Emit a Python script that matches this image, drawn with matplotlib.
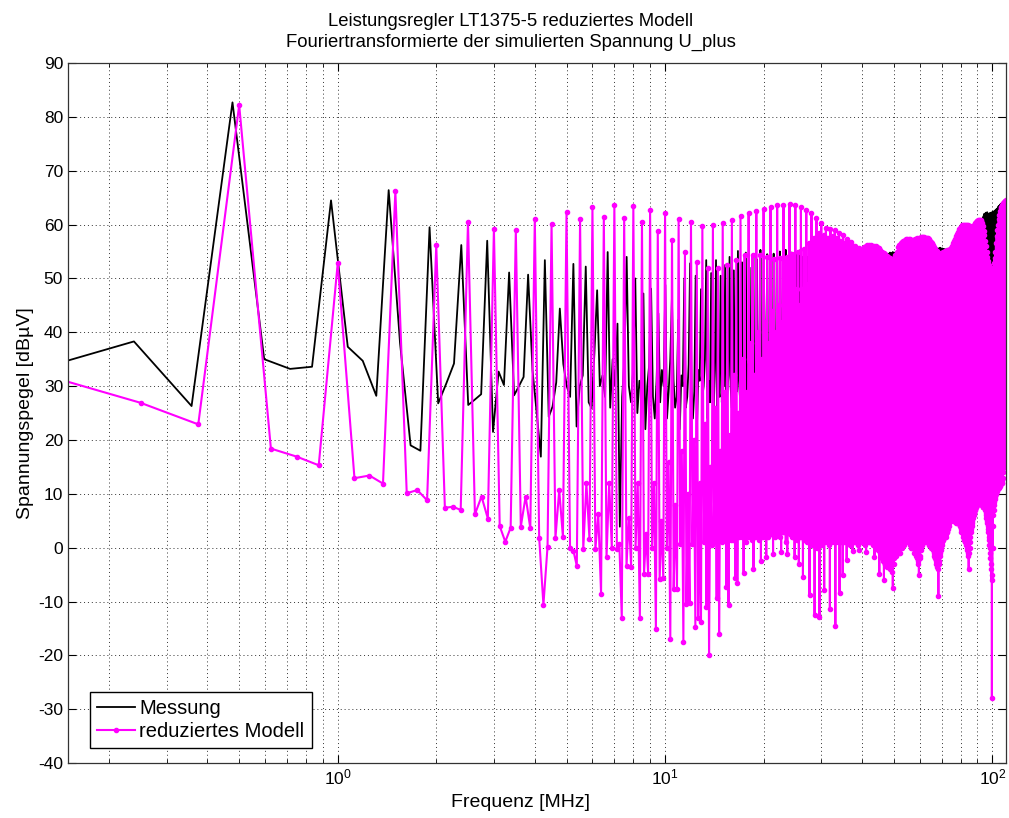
import matplotlib
matplotlib.use("Agg")
import matplotlib.pyplot as plt
import numpy as np
from matplotlib.ticker import LogLocator, NullFormatter, MultipleLocator

plt.rcParams["font.family"] = ["Liberation Sans", "DejaVu Sans"]
plt.rcParams["mathtext.default"] = "regular"
plt.rcParams["axes.unicode_minus"] = False

# frequency bin widths of the two spectra (MHz)
df_messung = 0.11925
df_modell = 0.125

# Messung, 4 bins per harmonic of 0.477 MHz: [bin1, bin2, bin3, harmonic]
messung_dbuv = [
    [33.0, 38.3, 26.3, 82.7, 35.0, 33.2, 33.6, 64.5, 37.3, 34.7, 28.2, 66.4, 38.0, 19.0, 18.0, 59.5],
    [26.8, 30.5, 34.2, 56.2, 26.5, 27.5, 28.5, 57.0, 21.5, 32.7, 30.2, 51.1, 28.3, 30.0, 31.7, 50.7],
    [33.0, 25.0, 16.9, 53.4, 24.3, 26.2, 30.7, 44.4, 34.1, 30.0, 28.0, 52.7, 22.5, 30.0, 32.0, 52.2],
    [27.0, 25.9, 36.0, 47.8, 30.0, 32.0, 28.0, 54.9, 26.0, 35.0, 30.0, 41.6, 3.9, 28.0, 35.0, 54.0],
    [30.0, 27.0, 33.0, 50.0, 25.0, 31.0, 29.0, 47.2, 22.0, 30.0, 34.0, 48.1, 28.0, 24.0, 31.0, 43.5],
    [27.0, 33.0, 30.0, 48.8, 24.0, 29.0, 35.0, 46.3, 31.0, 26.0, 28.0, 42.3, 22.0, 32.0, 30.0, 50.0],
    [26.0, 28.0, 34.0, 52.8, 30.0, 24.0, 29.0, 50.5, 23.0, 33.0, 31.0, 48.0, 28.0, 30.0, 35.0, 53.4],
    [24.0, 31.0, 27.0, 51.0, 29.0, 25.0, 33.0, 53.4, 22.0, 30.0, 28.0, 50.5, 27.0, 34.0, 30.0, 52.5],
    [25.0, 29.0, 32.0, 54.0, 30.0, 26.0, 31.0, 51.5, 24.0, 33.0, 29.0, 55.1, 31.0, 28.0, 34.0, 53.0],
    [27.0, 32.0, 30.0, 54.8, 29.0, 34.0, 31.0, 52.0, 32.0, 30.0, 35.0, 54.5, 30.0, 33.0, 31.0, 53.5],
    [33.0, 31.0, 34.0, 55.3, 31.0, 35.0, 32.0, 53.0, 34.0, 32.0, 36.0, 54.5, 32.0, 34.0, 33.0, 53.8],
    [35.0, 33.0, 34.0, 54.6, 33.0, 36.0, 34.0, 53.5, 34.0, 35.0, 33.0, 55.0, 36.0, 34.0, 35.0, 54.0],
    [34.0, 36.0, 35.0, 55.3, 35.0, 33.0, 36.0, 54.2, 36.0, 35.0, 34.0, 54.8, 34.0, 36.0, 35.0, 53.9],
    [35.0, 34.0, 36.0, 54.5, 36.0, 35.0, 34.0, 55.2, 34.0, 36.0, 35.0, 54.0, 35.0, 34.0, 36.0, 54.6],
    [36.0, 35.0, 35.0, 54.0, 35.0, 36.0, 34.0, 53.6, 34.0, 35.0, 36.0, 54.2, 36.0, 34.0, 35.0, 53.5],
    [35.0, 36.0, 34.0, 53.8, 34.0, 35.0, 36.0, 53.2, 36.0, 35.0, 34.0, 53.6, 35.0, 36.0, 35.0, 53.0],
    [34, 36, 35, 53.2, 35, 34, 36, 52.8, 36, 35, 34, 53.4, 34, 36, 35, 52.9],
    [35, 34, 36, 53.0, 36, 35, 34, 53.5, 34, 36, 35, 52.8, 35, 34, 36, 53.2],
    [36, 35, 34, 53.0, 34, 36, 35, 52.6, 35, 34, 36, 53.1, 36, 35, 34, 52.8],
    [34, 36, 35, 52.5, 35, 34, 36, 52.9, 36, 35, 34, 52.4, 34, 36, 35, 52.7],
    [35, 34, 36, 52.3, 36, 35, 34, 52.6, 34, 36, 35, 52.2, 35, 34, 36, 52.5],
    [36, 35, 34, 52.8, 34, 36, 35, 53.0, 35, 34, 36, 52.7, 36, 35, 34, 53.1],
    [34, 36, 35, 53.2, 35, 34, 36, 53.0, 36, 35, 34, 53.4, 34, 36, 35, 53.3],
    [35, 34, 36, 53.6, 36, 35, 34, 53.9, 34, 36, 35, 54.0, 35, 34, 36, 54.1],
    [36, 35, 34, 54.3, 34, 36, 35, 54.2, 35, 34, 36, 54.5, 36, 35, 34, 54.4],
    [34, 36, 35, 54.6, 35, 34, 36, 54.8, 36, 35, 34, 54.7, 34, 36, 35, 54.9],
    [35, 34, 36, 54.8, 36, 35, 34, 54.6, 34, 36, 35, 54.5, 35, 34, 36, 54.3],
    [36, 35, 34, 54.2, 34, 36, 35, 54.0, 35, 34, 36, 54.1, 36, 35, 34, 53.9],
    [34, 36, 35, 54.0, 35, 34, 36, 53.8, 36, 35, 34, 54.1, 34, 36, 35, 53.9],
    [35, 34, 36, 54.2, 36, 35, 34, 54.0, 34, 36, 35, 54.3, 35, 34, 36, 54.1],
    [36, 35, 34, 54.4, 34, 36, 35, 54.2, 35, 34, 36, 54.5, 36, 35, 34, 54.3],
    [34, 36, 35, 54.6, 35, 34, 36, 54.4, 36, 35, 34, 54.7, 34, 36, 35, 54.5],
    [35, 34, 36, 54.8, 36, 35, 34, 54.6, 34, 36, 35, 54.9, 35, 34, 36, 54.7],
    [36, 35, 34, 55.0, 34, 36, 35, 54.8, 35, 34, 36, 55.1, 36, 35, 34, 54.9],
    [34, 36, 35, 55.2, 35, 34, 36, 55.0, 36, 35, 34, 55.3, 34, 36, 35, 55.2],
    [35, 34, 36, 55.5, 36, 35, 34, 55.3, 34, 36, 35, 55.6, 35, 34, 36, 55.4],
    [36, 35, 34, 55.7, 34, 36, 35, 55.5, 35, 34, 36, 55.6, 36, 35, 34, 55.4],
    [34, 36, 35, 55.5, 35, 34, 36, 55.3, 36, 35, 34, 55.4, 34, 36, 35, 55.2],
    [35, 34, 36, 55.3, 36, 35, 34, 55.1, 34, 36, 35, 55.2, 35, 34, 36, 55.0],
    [36, 35, 34, 55.1, 34, 36, 35, 54.9, 35, 34, 36, 55.0, 36, 35, 34, 54.8],
    [34, 36, 35, 55.0, 35, 34, 36, 54.8, 36, 35, 34, 55.1, 34, 36, 35, 54.9],
    [35, 34, 36, 55.2, 36, 35, 34, 55.0, 34, 36, 35, 55.3, 35, 34, 36, 55.1],
    [36, 35, 34, 55.4, 34, 36, 35, 55.2, 35, 34, 36, 55.5, 36, 35, 34, 55.3],
    [34, 36, 35, 55.6, 35, 34, 36, 55.4, 36, 35, 34, 55.7, 34, 36, 35, 55.5],
    [35, 34, 36, 55.8, 36, 35, 34, 55.6, 34, 36, 35, 55.9, 35, 34, 36, 55.7],
    [36, 35, 34, 56.0, 34, 36, 35, 56.2, 35, 34, 36, 56.5, 36, 35, 34, 56.8],
    [34, 36, 35, 57.0, 35, 34, 36, 57.3, 36, 35, 34, 57.6, 34, 36, 35, 57.9],
    [35, 34, 36, 58.2, 36, 35, 34, 58.6, 34, 36, 35, 59.0, 35, 34, 36, 59.4],
    [36, 35, 34, 59.8, 34, 36, 35, 60.3, 35, 34, 36, 60.8, 36, 35, 34, 61.2],
    [34, 36, 35, 61.6, 35, 34, 36, 62.0, 36, 35, 34, 61.5, 34, 36, 35, 62.2],
    [35, 34, 36, 61.8, 36, 35, 34, 62.3, 34, 36, 35, 62.0, 35, 34, 36, 61.6],
    [36, 35, 34, 62.1, 34, 36, 35, 61.7, 35, 34, 36, 62.2, 36, 35, 34, 61.9],
    [34, 36, 35, 62.3, 35, 34, 36, 62.0, 36, 35, 34, 62.4, 34, 36, 35, 62.2],
    [35, 34, 36, 62.6, 36, 35, 34, 62.4, 34, 36, 35, 62.8, 35, 34, 36, 62.7],
    [36, 35, 34, 63.0, 34, 36, 35, 63.2, 35, 34, 36, 63.4, 36, 35, 34, 63.5],
    [34, 36, 35, 63.6, 35, 34, 36, 63.8, 36, 35, 34, 63.9, 34, 36, 35, 64.0],
    [35, 34, 36, 64.0, 36, 35, 34, 64.1, 34, 36, 35, 64.1, 35, 34, 36, 64.2],
    [36, 35, 34, 64.2, 34, 36, 35, 64.3, 35, 34, 36, 64.3, 36, 35, 34, 64.4],
]

# reduziertes Modell, 4 bins per harmonic of 0.5 MHz: [bin1, bin2, bin3, harmonic]
modell_dbuv = [
    [32.2, 26.9, 22.9, 82.2, 18.4, 16.9, 15.3, 52.8, 12.9, 13.4, 11.9, 66.2, 10.1, 10.7, 8.8, 56.2],
    [7.4, 7.6, 7.0, 60.5, 6.2, 9.5, 5.4, 59.2, 4.0, 1.1, 3.7, 59.0, 3.9, 9.5, 3.6, 61.1],
    [1.8, -10.6, 0.2, 60.1, 1.8, 10.7, 2.0, 62.3, 0.0, -0.6, -3.4, 61.0, -0.3, 12.0, 1.6, 63.2],
    [-0.3, 6.3, -8.6, 61.5, -1.7, 12.0, 0.0, 63.6, -0.3, 0.7, -13.1, 61.3, -3.4, 5.6, -3.5, 63.4],
    [0.0, 12.0, -13.0, 60.4, -4.8, 2.6, -4.8, 62.8, 0.0, 12.0, -15.2, 58.9, -5.9, 5.0, -5.7, 62.1],
    [0.0, 16.0, -17.0, 57.1, -7.6, 8.0, -7.6, 61.0, 0.7, 18.0, -17.6, 55.0, -10.5, 10.0, -10.3, 60.5],
    [0.7, 20.0, -14.7, 53.1, -13.0, 12.0, -13.8, 59.7, 1.0, 23.0, -11.0, 51.9, -19.9, 15.0, 0.5, 60.0],
    [1.0, 26.0, -9.4, 51.9, -16.0, 18.0, 1.0, 60.3, 1.5, 29.0, -7.3, 52.5, -10.7, 21.0, 1.5, 60.8],
    [1.5, 32.0, -5.7, 53.4, -6.6, 25.0, 2.0, 61.6, 2.0, 35.0, -4.7, 54.3, 1.0, 29.0, 2.0, 62.1],
    [2.0, 38.0, 1.5, 54.3, -3.9, 32.0, 2.0, 62.6, 2.5, 40.0, 1.5, 54.3, -2.5, 35.0, 2.0, 62.9],
    [2.5, 42.0, -1.7, 53.9, 2.0, 38.0, 2.5, 63.3, 2.5, 44.0, -1.2, 53.7, 2.0, 40.0, 3.0, 63.6],
    [2.5, 45.0, 2.0, 53.8, -0.8, 42.0, 3.0, 63.6, 3.0, 46.0, 1.0, 54.0, -1.2, 43.0, 3.0, 63.8],
    [2.5, 47.0, 2.0, 54.5, 2.0, 44.0, -1.8, 63.6, 2.5, 48.0, 1.5, 55.0, -3.0, 45.0, 2.0, 63.2],
    [2.0, 48.0, -5.5, 55.5, 1.5, 46.0, 2.0, 62.7, 1.0, 49.0, 1.5, 56.5, -8.8, 47.0, 1.0, 62.1],
    [0.5, 49.0, 1.0, 57.5, -12.5, 48.0, 0.5, 61.2, 0.0, 50.0, 1.0, 58.5, -12.8, 49.0, 0.5, 60.3],
    [1.0, 47.0, 1.5, 58.0, -7.9, 46.0, 1.0, 59.3, 1.5, 47.0, 1.0, 57.5, 0.5, 46.0, -11.3, 59.1],
    [1.0, 46.0, 1.5, 57.8, 1.5, 45.0, 1.0, 59.0, -14.5, 46.0, 1.0, 57.5, 1.5, 45.0, 1.0, 58.5],
    [-8.5, 45.0, 1.0, 57.0, 1.5, 44.0, -5.1, 58.0, 1.0, 45.0, 1.5, 56.5, 1.0, 44.0, -2.3, 57.4],
    [1.5, 44.0, 1.0, 56.5, 0.5, 43.0, 1.5, 56.8, 1.0, 44.0, -0.6, 56.0, 1.5, 43.0, 1.0, 56.0],
    [1.0, 43.0, 1.5, 55.5, 1.5, 42.0, 0.5, 55.6, -0.4, 43.0, 1.0, 55.3, 1.5, 42.0, 1.0, 55.4],
    [1.0, 42.0, 1.5, 55.8, 1.0, 43.0, 0.5, 56.0, -0.8, 42.0, 1.0, 56.2, 1.5, 43.0, 1.0, 56.3],
    [1.0, 42.0, 1.0, 56.2, 1.5, 43.0, 1.0, 56.1, 0.5, 42.0, 1.0, 56.0, -1.7, 43.0, 1.0, 56.0],
    [0.5, 42.0, 0.0, 55.8, -0.5, 41.0, 0.0, 55.6, -4.8, 42.0, -1.0, 55.3, -1.5, 41.0, -2.0, 55.0],
    [-2.0, 41.0, -2.5, 54.7, -6.0, 40.0, -3.0, 54.5, -3.0, 41.0, -2.5, 54.2, -3.5, 40.0, -3.0, 54.0],
    [-3.0, 40.0, -3.5, 53.8, -4.0, 40.0, -3.0, 53.6, -3.5, 39.0, -4.5, 53.6, -7.4, 40.0, -3.0, 53.7],
    [-2.0, 40.0, -1.5, 54.3, -1.0, 41.0, -1.5, 55.0, -1.0, 40.0, -0.5, 55.8, -0.5, 41.0, -1.0, 56.3],
    [-1.0, 41.0, 0.0, 56.6, 0.5, 42.0, 0.0, 56.8, 0.5, 41.0, 1.0, 57.0, 1.0, 42.0, 0.5, 57.2],
    [1.0, 42.0, 1.5, 57.3, 1.1, 42.0, 1.5, 57.4, 1.5, 43.0, 1.0, 57.4, 1.0, 42.0, 1.5, 57.3],
    [0.5, 42.0, 0.0, 57.2, 0.0, 43.0, 0.5, 57.2, 0.5, 42.0, 0.0, 57.2, -1.0, 42.0, -0.5, 57.3],
    [-1.0, 42.0, -1.5, 57.4, -2.0, 43.0, -1.5, 57.5, -2.5, 42.0, -3.0, 57.5, -5.0, 43.0, -2.0, 57.6],
    [-1.5, 42.0, -0.5, 57.7, 0.0, 43.0, 0.5, 57.7, 0.5, 42.0, 1.0, 57.7, 1.0, 43.0, 1.5, 57.7],
    [1.4, 43.0, 1.5, 57.6, 1.5, 44.0, 1.5, 57.6, 1.0, 43.0, 1.5, 57.5, 1.0, 44.0, 0.5, 57.3],
    [0.5, 43.0, 1.0, 57.0, 0.5, 43.0, 0.5, 56.8, 0.0, 43.0, 0.5, 56.6, -0.5, 43.0, 0.0, 56.3],
    [-1.0, 42.0, -1.5, 55.9, -2.0, 42.0, -2.0, 55.5, -2.5, 42.0, -3.0, 55.1, -3.0, 42.0, -3.5, 54.7],
    [-4.0, 42.0, -9.0, 54.6, -3.0, 42.0, -2.5, 54.6, -1.5, 42.0, -1.0, 54.7, -0.5, 42.0, 0.0, 54.8],
    [0.5, 43.0, 1.0, 55.0, 1.5, 43.0, 1.5, 55.0, 2.0, 43.0, 2.0, 55.1, 2.0, 43.0, 2.5, 55.1],
    [2.0, 44.0, 2.5, 55.2, 3.0, 44.0, 3.0, 55.2, 3.5, 44.0, 4.0, 55.3, 4.0, 44.0, 4.5, 55.4],
    [5.0, 44.0, 5.0, 55.6, 5.5, 45.0, 5.5, 55.8, 5.4, 45.0, 5.5, 56.1, 5.5, 45.0, 5.0, 56.6],
    [5.0, 45.0, 5.5, 56.9, 5.0, 45.0, 5.0, 57.3, 5.5, 46.0, 4.5, 57.8, 5.0, 46.0, 5.0, 58.2],
    [4.5, 46.0, 5.0, 58.7, 5.0, 46.0, 4.5, 59.1, 4.8, 46.0, 4.5, 59.4, 4.0, 47.0, 4.0, 59.6],
    [3.5, 47.0, 3.0, 59.8, 3.0, 47.0, 3.0, 59.9, 2.5, 47.0, 2.0, 59.9, 2.0, 47.0, 2.0, 59.9],
    [1.5, 47.0, 1.5, 59.9, 1.0, 47.0, 1.0, 59.9, 0.5, 47.0, 0.5, 59.9, 0.0, 47.0, -0.5, 59.9],
    [-1.0, 47.0, -1.5, 59.8, -3.9, 47.0, -1.0, 59.8, 0.0, 47.0, 1.0, 59.7, 2.0, 47.0, 3.0, 59.6],
    [3.5, 48.0, 4.0, 59.6, 4.5, 48.0, 5.0, 59.6, 5.5, 48.0, 6.0, 59.8, 6.0, 48.0, 6.5, 60.0],
    [6.5, 48.0, 7.0, 60.3, 7.0, 48.0, 7.5, 60.5, 7.6, 49.0, 7.5, 60.6, 8.0, 49.0, 8.0, 60.7],
    [8.5, 49.0, 8.5, 60.8, 8.5, 49.0, 9.0, 60.8, 8.9, 49.0, 9.0, 60.8, 9.0, 49.0, 8.5, 60.8],
    [8.5, 48.0, 8.5, 60.6, 8.0, 48.0, 8.0, 60.3, 8.0, 47.0, 7.5, 59.7, 7.5, 46.0, 7.5, 58.9],
    [7.5, 45.0, 7.5, 58.0, 7.6, 44.0, 7.5, 57.0, 7.0, 43.0, 6.5, 56.0, 6.0, 42.0, 5.5, 55.0],
    [5.0, 41.0, 4.5, 54.0, 4.0, 40.0, 3.5, 53.2, 3.0, 40.0, 2.0, 52.5, 1.5, 39.0, 0.5, 52.0],
    [0.0, 39.0, -1.0, 51.7, -2.0, 39.0, -3.0, 51.5, -4.0, 39.0, -6.0, 51.5, -28.0, 39.0, -5.0, 51.6],
    [0.0, 40.0, 4.0, 52.0, 6.0, 41.0, 7.0, 52.8, 8.0, 42.0, 8.5, 53.8, 9.0, 43.0, 9.5, 55.0],
    [10.0, 44.0, 10.0, 56.5, 10.0, 45.0, 10.5, 57.8, 10.5, 46.0, 10.5, 59.0, 11.0, 47.0, 11.0, 60.0],
    [11.0, 48.0, 11.0, 61.0, 11.5, 49.0, 11.5, 61.8, 11.5, 50.0, 11.5, 62.5, 12.0, 50.0, 12.0, 63.0],
    [12.0, 50.0, 12.0, 63.3, 12.0, 51.0, 12.0, 63.6, 12.5, 51.0, 13.0, 63.8, 14.0, 51.0, 14.0, 64.0],
    [15.0, 51.0, 15.0, 64.2, 16.0, 52.0, 16.0, 64.3, 18.0, 52.0, 18.0, 64.4, 20.0, 52.0, 20.0, 64.5],
]

pegel_messung = np.ravel(messung_dbuv)
pegel_modell = np.ravel(modell_dbuv)
f_messung = df_messung * np.arange(1, len(pegel_messung) + 1)
f_modell = df_modell * np.arange(1, len(pegel_modell) + 1)

fig = plt.figure(figsize=(10.09, 8.18), dpi=100)
ax = fig.add_axes([0.0674, 0.0672, 0.9296, 0.8557])

ax.semilogx(f_messung, pegel_messung, color="black", lw=1.3, label="Messung")
ax.semilogx(f_modell, pegel_modell, color="#ff00ff", lw=1.5, marker=".",
            markersize=6, label="reduziertes Modell")

ax.set_xlim(0.15, 110)
ax.set_ylim(-40, 90)
ax.yaxis.set_major_locator(MultipleLocator(10))
ax.xaxis.set_major_locator(LogLocator(base=10))
ax.xaxis.set_minor_locator(LogLocator(base=10, subs=np.arange(2, 10)))
ax.xaxis.set_minor_formatter(NullFormatter())

# dotted MATLAB-like grid
ax.grid(True, which="major", color="#333333", lw=0.7, dashes=(1, 3))
ax.grid(True, which="minor", axis="x", color="#333333", lw=0.7, dashes=(1, 3))
ax.tick_params(which="both", direction="in", top=True, right=True,
               labelsize=12.5, colors="black")
ax.tick_params(which="major", length=6)
ax.tick_params(which="minor", length=3)
for s in ax.spines.values():
    s.set_linewidth(0.9)
    s.set_color("#333333")

ax.set_xlabel("Frequenz [MHz]", fontsize=14)
ax.xaxis.set_label_coords(0.482, -0.044)
ax.set_ylabel("Spannungspegel [dBµV]", fontsize=14, labelpad=3)
ax.set_title("Leistungsregler LT1375-5 reduziertes Modell\n"
             "Fouriertransformierte der simulierten Spannung U_plus",
             fontsize=13.3, linespacing=1.3, pad=12, x=0.472)

ax.legend(loc="lower left", bbox_to_anchor=(0.0235, 0.0214), borderaxespad=0,
          fontsize=14.5, fancybox=False, framealpha=1, edgecolor="black",
          handlelength=1.9, handletextpad=0.2, borderpad=0.35, labelspacing=0.2)

fig.savefig("out.png", dpi=100)
